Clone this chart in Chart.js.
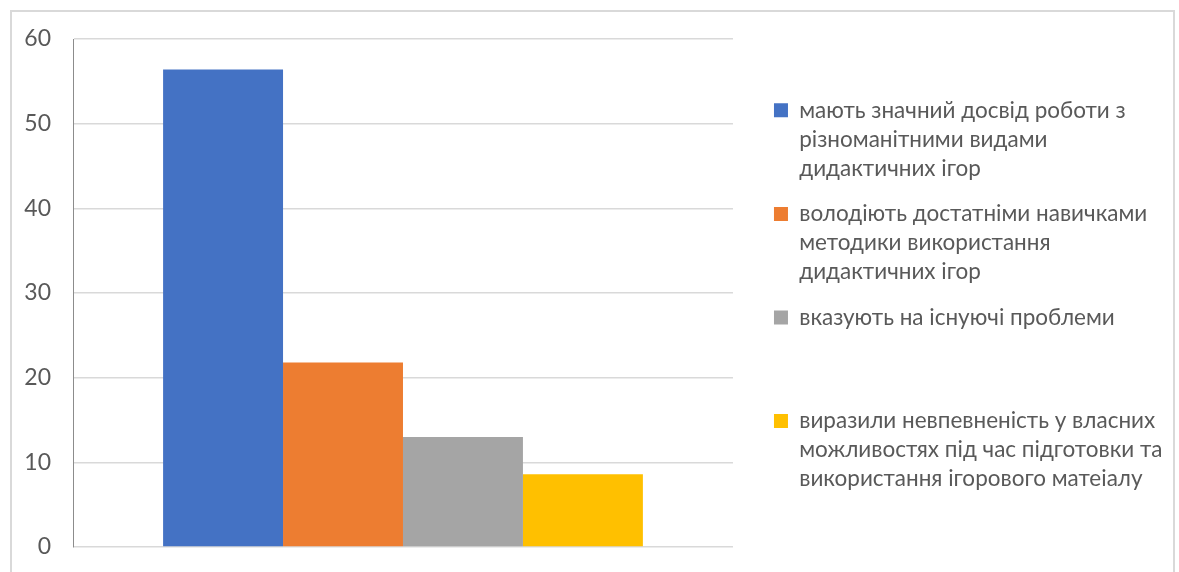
<!DOCTYPE html>
<html>
<head>
<meta charset="utf-8">
<script src="https://cdn.jsdelivr.net/npm/chart.js@4/dist/chart.umd.min.js"></script>
<style>
  html, body { margin: 0; padding: 0; background: #fff; }
  #frame { position: absolute; left: 10px; top: 10px; width: 1161px; height: 600px; border: 2px solid #d9d9d9; }
  #wrap { position: absolute; left: 0; top: 0; width: 1179px; height: 572px; }
</style>
</head>
<body>
<div id="frame"></div>
<div id="wrap"><canvas id="chart"></canvas></div>
<script>
// --- DATA ---
const categories = [''];
const seriesLabels = [
  ['мають значний досвід роботи з', 'різноманітними видами', 'дидактичних ігор'],
  ['володіють достатніми навичками', 'методики використання', 'дидактичних ігор'],
  ['вказують на існуючі проблеми', '', ''],
  ['виразили невпевненість у власних', 'можливостях під час підготовки та', 'використання ігорового матеіалу']
];
const seriesValues = [56.4, 21.8, 13, 8.6];
const seriesColors = ['#4472C4', '#ED7D31', '#A5A5A5', '#FFC000'];
const yTicks = [0, 10, 20, 30, 40, 50, 60];

const FONT = 'Lato, "Open Sans", sans-serif';
const TEXT = '#595959';

const datasets = seriesValues.map((v, i) => ({
  label: seriesLabels[i],
  data: [v],
  backgroundColor: seriesColors[i],
  borderWidth: 0,
  barPercentage: 1.0,
  categoryPercentage: 0.727
}));

new Chart(document.getElementById('chart').getContext('2d'), {
  type: 'bar',
  data: { labels: categories, datasets },
  options: {
    responsive: true, maintainAspectRatio: false, animation: false,
    layout: { padding: { left: 10, top: 39, right: 6.5, bottom: 15 } },
    scales: {
      // x axis only reserves a little room below the plot
      x: {
        display: true,
        afterFit: s => { s.height = 10; },
        ticks: { display: false },
        grid: { display: false },
        border: { display: false }
      },
      y: {
        min: 0, max: 60,
        afterFit: s => { s.width = 63; },
        afterBuildTicks: s => { s.ticks = yTicks.map(v => ({ value: v })); },
        ticks: { color: TEXT, padding: 2, font: { family: FONT, size: 23 } },
        // invisible tick marks push the labels away from the axis line
        grid: { color: '#d9d9d9', lineWidth: 1.5, drawTicks: true, tickLength: 20, tickColor: 'rgba(0,0,0,0)' },
        border: { color: '#8c8c8c', width: 1 }
      },
      // empty axis used as a gap between the plot and the legend
      gap: {
        position: 'right', display: true,
        afterFit: s => { s.width = 24.5; },
        ticks: { display: false },
        grid: { display: false, drawOnChartArea: false },
        border: { display: false }
      }
    },
    plugins: {
      tooltip: { enabled: false },
      legend: {
        position: 'right', align: 'center',
        maxWidth: 422,
        labels: {
          boxWidth: 14, boxHeight: 14, padding: 16.5,
          color: TEXT,
          font: { family: FONT, size: 22.5, lineHeight: 1.29 }
        }
      }
    }
  }
});
</script>
</body>
</html>
